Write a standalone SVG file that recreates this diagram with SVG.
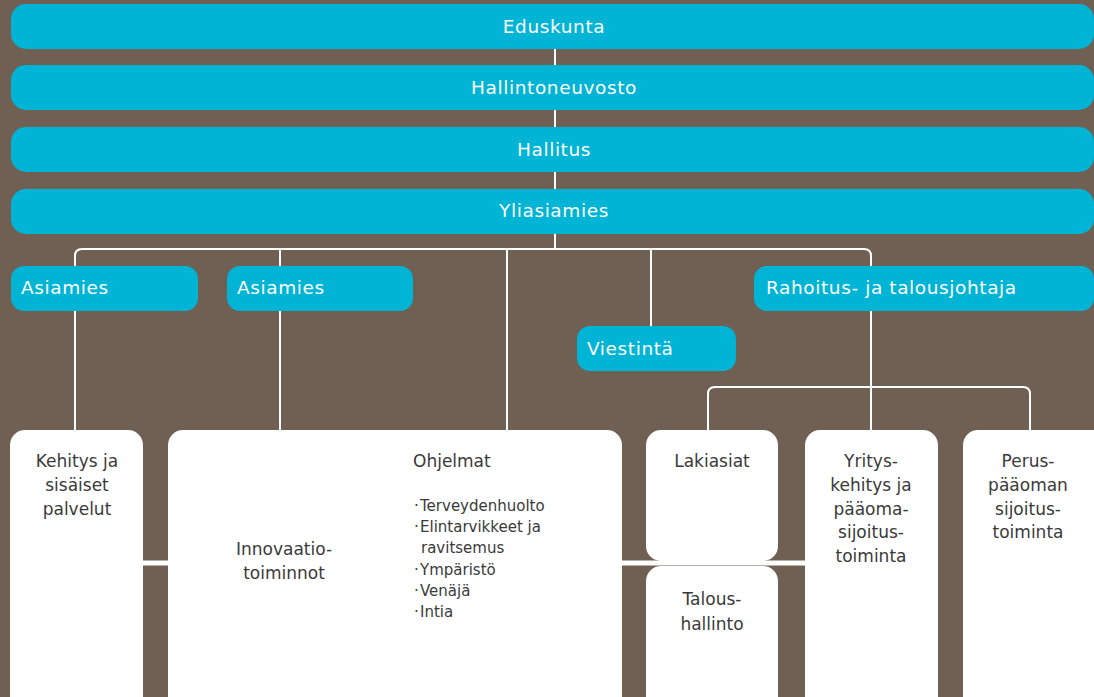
<svg xmlns="http://www.w3.org/2000/svg" width="1094" height="697" viewBox="0 0 1094 697">
<style>
.bar{fill:#00B4D6}
.box{fill:#FFFFFF}
.bt{font-family:"DejaVu Sans","Liberation Sans",sans-serif;font-size:18.5px;fill:#FFFFFF;letter-spacing:0.6px}
.wt{font-family:"DejaVu Sans","Liberation Sans",sans-serif;font-size:17px;fill:#3A3A3A}
.m{text-anchor:middle}
.lt{font-family:"DejaVu Sans","Liberation Sans",sans-serif;font-size:15px;fill:#3A3A3A}
.c{fill:none;stroke:#FFFFFF;stroke-width:2}
</style>
<rect x="0" y="0" width="1094" height="697" fill="#705F53"/>
<g id="connectors">
<line class="c" x1="555" y1="40" x2="555" y2="249"/>
<path class="c" d="M75,270 V256 Q75,249 82,249 H864 Q871,249 871,256 V430"/>
<line class="c" x1="75" y1="300" x2="75" y2="432"/>
<line class="c" x1="280" y1="249" x2="280" y2="432"/>
<line class="c" x1="507" y1="249" x2="507" y2="432"/>
<line class="c" x1="651" y1="249" x2="651" y2="330"/>
<path class="c" d="M708,432 V394 Q708,387 715,387 H1023 Q1030,387 1030,394 V432"/>
<line x1="140" y1="563" x2="808" y2="563" stroke="#FFFFFF" stroke-width="5"/>
</g>
<g id="eduskunta"><rect class="bar" x="11" y="4" width="1083" height="45" rx="15"/><text class="bt m" x="554" y="33">Eduskunta</text></g>
<g id="hallintoneuvosto"><rect class="bar" x="11" y="65" width="1083" height="45" rx="15"/><text class="bt m" x="554" y="94">Hallintoneuvosto</text></g>
<g id="hallitus"><rect class="bar" x="11" y="127" width="1083" height="45" rx="15"/><text class="bt m" x="554" y="156">Hallitus</text></g>
<g id="yliasiamies"><rect class="bar" x="11" y="189" width="1083" height="45" rx="15"/><text class="bt m" x="554" y="217">Yliasiamies</text></g>
<g id="asiamies1"><rect class="bar" x="11" y="266" width="187" height="45" rx="13"/><text class="bt" x="21" y="294">Asiamies</text></g>
<g id="asiamies2"><rect class="bar" x="227" y="266" width="186" height="45" rx="13"/><text class="bt" x="237" y="294">Asiamies</text></g>
<g id="viestinta"><rect class="bar" x="577" y="326" width="159" height="45" rx="13"/><text class="bt" x="587" y="355">Viestintä</text></g>
<g id="rahoitus"><rect class="bar" x="754" y="266" width="340" height="45" rx="13"/><text class="bt" x="766" y="294">Rahoitus- ja talousjohtaja</text></g>
<g id="kehitys"><rect class="box" x="10" y="430" width="133" height="290" rx="15"/>
<text class="wt m" x="77" y="467">Kehitys ja</text><text class="wt m" x="77" y="491">sisäiset</text><text class="wt m" x="77" y="515">palvelut</text></g>
<g id="innovaatio"><rect class="box" x="168" y="430" width="454" height="290" rx="15"/>
<text class="wt m" x="284" y="555">Innovaatio-</text><text class="wt m" x="284" y="579">toiminnot</text>
<text class="wt" x="413" y="467">Ohjelmat</text>
<text class="lt" x="414" y="511">·</text><text class="lt" x="420" y="511">Terveydenhuolto</text>
<text class="lt" x="414" y="532">·</text><text class="lt" x="420" y="532">Elintarvikkeet ja</text>
<text class="lt" x="421" y="553">ravitsemus</text>
<text class="lt" x="414" y="575">·</text><text class="lt" x="420" y="575">Ympäristö</text>
<text class="lt" x="414" y="596">·</text><text class="lt" x="420" y="596">Venäjä</text>
<text class="lt" x="414" y="617">·</text><text class="lt" x="420" y="617">Intia</text></g>
<g id="lakiasiat"><rect class="box" x="646" y="430" width="132" height="131" rx="15"/><text class="wt m" x="712" y="467">Lakiasiat</text></g>
<g id="taloushallinto"><rect class="box" x="646" y="566" width="132" height="154" rx="15"/><text class="wt m" x="712" y="605">Talous-</text><text class="wt m" x="712" y="630">hallinto</text></g>
<g id="yritys"><rect class="box" x="805" y="430" width="133" height="290" rx="15"/>
<text class="wt m" x="871" y="467">Yritys-</text><text class="wt m" x="871" y="491">kehitys ja</text><text class="wt m" x="871" y="515">pääoma-</text><text class="wt m" x="871" y="538">sijoitus-</text><text class="wt m" x="871" y="562">toiminta</text></g>
<g id="perus"><rect class="box" x="963" y="430" width="150" height="290" rx="15"/>
<text class="wt m" x="1028" y="467">Perus-</text><text class="wt m" x="1028" y="491">pääoman</text><text class="wt m" x="1028" y="515">sijoitus-</text><text class="wt m" x="1028" y="538">toiminta</text></g>
</svg>
